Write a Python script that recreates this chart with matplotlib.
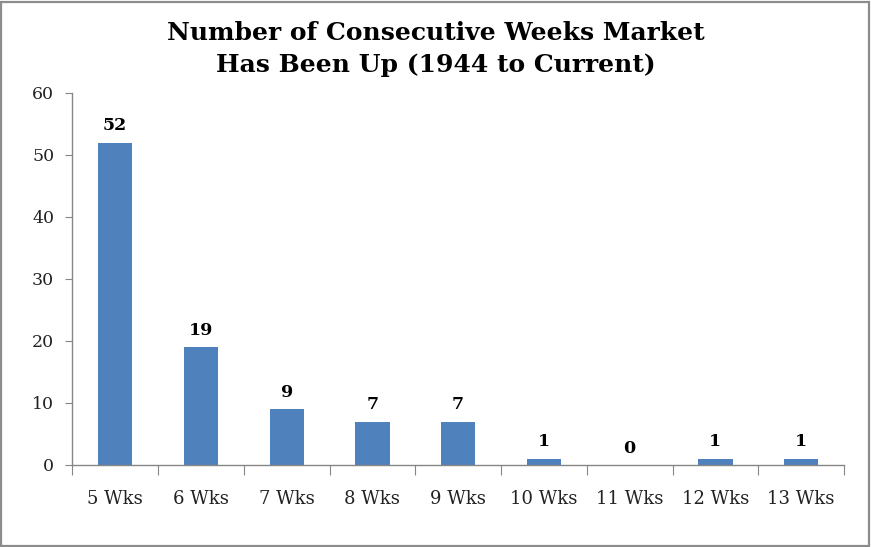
import numpy as np
import matplotlib.pyplot as plt
from matplotlib.patches import Rectangle

# Data
categories = ['5 Wks', '6 Wks', '7 Wks', '8 Wks', '9 Wks', '10 Wks', '11 Wks', '12 Wks', '13 Wks']
counts = [52, 19, 9, 7, 7, 1, 0, 1, 1]
y_ticks = [0, 10, 20, 30, 40, 50, 60]

title = 'Number of Consecutive Weeks Market\nHas Been Up (1944 to Current)'

bar_color = '#4F81BD'
axis_color = '#868686'
serif = ['DejaVu Serif', 'Liberation Serif']

fig = plt.figure(figsize=(8.71, 5.47), dpi=100)
ax = fig.add_axes([0.083, 0.150, 0.886, 0.680])

x = np.arange(len(categories))
ax.bar(x, counts, width=0.4, color=bar_color, zorder=2)

# value labels above each bar
for xi, v in zip(x, counts):
    ax.annotate(str(v), (xi, v), xytext=(0, 6), textcoords='offset points',
                ha='center', va='bottom', fontsize=12.5, fontweight='bold',
                family=serif, color='black')

ax.set_xlim(-0.5, len(categories) - 0.5)
ax.set_ylim(0, 60)
ax.set_yticks(y_ticks)
ax.set_yticklabels([str(t) for t in y_ticks], family=serif, fontsize=12.5, color='#222222')

# category labels centred, ticks at the boundaries
ax.set_xticks(np.arange(len(categories) + 1) - 0.5)
ax.set_xticklabels([])
ax.set_xticks(x, minor=True)
ax.set_xticklabels(categories, minor=True, family=serif, fontsize=13, color='#222222')
ax.tick_params(axis='x', which='minor', length=0, pad=18)
ax.tick_params(axis='x', which='major', length=7, color=axis_color, direction='out')
ax.tick_params(axis='y', length=5, color=axis_color, direction='out', pad=8)

for side in ['top', 'right']:
    ax.spines[side].set_visible(False)
for side in ['left', 'bottom']:
    ax.spines[side].set_color(axis_color)
    ax.spines[side].set_linewidth(1.0)

fig.text(0.5, 0.910, title, ha='center', va='center', fontsize=18,
         fontweight='bold', family=serif, linespacing=1.4)

# grey frame round the chart
fig.patches.append(Rectangle((0.001, 0.002), 0.997, 0.995, transform=fig.transFigure,
                             fill=False, edgecolor='#8C8C8C', linewidth=1.6))

fig.savefig('out.png', dpi=100, facecolor='white')
